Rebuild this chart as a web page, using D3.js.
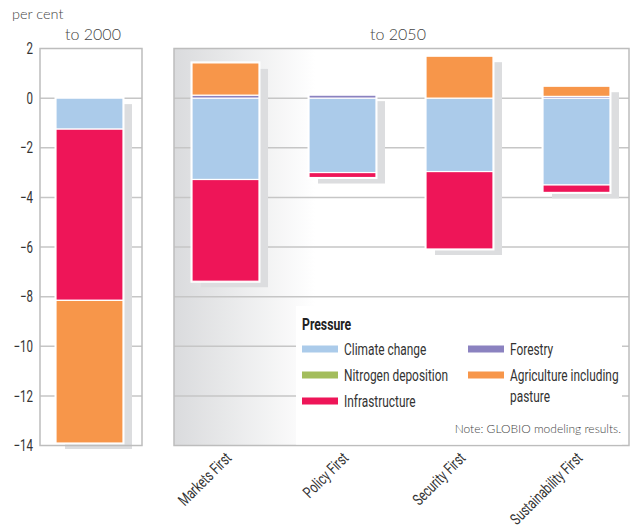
<!DOCTYPE html>
<html>
<head>
<meta charset="utf-8">
<script src="https://cdn.jsdelivr.net/npm/d3@7"></script>
<style>
  body { margin: 0; background: #fff; }
  svg { display: block; }
  .narrow { font-family: Roboto, "DejaVu Sans", sans-serif; }
  .geo { font-family: Lato, "Open Sans", sans-serif; font-weight: 300; fill: #444; }
</style>
</head>
<body>
<script>
// --- data ---
var keys = ["climate", "nitrogen", "infra", "forestry", "agri"];
var keyLabels = ["Climate change", "Nitrogen deposition", "Infrastructure", "Forestry", "Agriculture including pasture"];
var colors = ["#abcbea", "#a3bd5b", "#ee1558", "#8b82c0", "#f7964a"];

var period2000 = ["to 2000"];
var climate2000 = [-1.25];
var nitrogen2000 = [0];
var infra2000 = [-6.9];
var forestry2000 = [0];
var agri2000 = [-5.75];

var scenarios = ["Markets First", "Policy First", "Security First", "Sustainability First"];
var climate2050 = [-3.28, -3.0, -2.96, -3.5];
var nitrogen2050 = [0, 0, 0, 0];
var infra2050 = [-4.1, -0.2, -3.12, -0.3];
var forestry2050 = [0.12, 0.12, 0, 0.07];
var agri2050 = [1.3, 0, 1.69, 0.41];

var yTicks = [2, 0, -2, -4, -6, -8, -10, -12, -14];

var squeeze = 0.72;   // horizontal squeeze to mimic the condensed face

function rows(cats, c, n, i, f, a) {
    return cats.map(function(d, k){
        return {cat: d, climate: c[k], nitrogen: n[k], infra: i[k], forestry: f[k], agri: a[k]};
    });
}

function init(){
    var w = 630, h = 529;
    var svg = d3.select("body").append("svg").attr("width", w).attr("height", h);

    var y = d3.scaleLinear().domain([-14, 2]).range([445.5, 48.5]);

    var left = {x0: 40, x1: 142};
    var right = {x0: 174, x1: 629};

    var x2000 = d3.scaleBand().domain(period2000).range([22.5, 156.5]).paddingInner(0).paddingOuter(0.5);
    var x2050 = d3.scaleBand().domain(scenarios).range([167, 635]).paddingInner(0.4274).paddingOuter(0.2137);

    var stack = d3.stack().keys(keys).offset(d3.stackOffsetDiverging);
    var data2000 = stack(rows(period2000, climate2000, nitrogen2000, infra2000, forestry2000, agri2000));
    var data2050 = stack(rows(scenarios, climate2050, nitrogen2050, infra2050, forestry2050, agri2050));

    var color = d3.scaleOrdinal().domain(keys).range(colors);

    // gradient for right panel
    var grad = svg.append("defs").append("linearGradient")
        .attr("id", "fade").attr("gradientUnits", "userSpaceOnUse")
        .attr("x1", right.x0).attr("x2", 315).attr("y1", 0).attr("y2", 0);
    grad.append("stop").attr("offset", 0).attr("stop-color", "#dadbdd");
    grad.append("stop").attr("offset", 1).attr("stop-color", "#ffffff");

    svg.append("rect").attr("x", left.x0).attr("y", y(2)).attr("width", left.x1 - left.x0)
        .attr("height", y(-14) - y(2)).attr("fill", "#fff");
    svg.append("rect").attr("x", right.x0).attr("y", y(2)).attr("width", right.x1 - right.x0)
        .attr("height", y(-14) - y(2)).attr("fill", "url(#fade)");

    // gridlines
    [left, right].forEach(function(p){
        svg.append("g").selectAll("line")
            .data(yTicks.filter(function(d){ return d < 2 && d > -14; }))
            .enter().append("line")
            .attr("x1", p.x0).attr("x2", p.x1)
            .attr("y1", function(d){ return y(d); })
            .attr("y2", function(d){ return y(d); })
            .attr("stroke", "#c6c6c6").attr("stroke-width", 1.5);
    });

    function drawBars(data, x) {
        var cats = x.domain();
        var g = svg.append("g");
        var top = function(i){ return y(d3.max(data, function(s){ return s[i][1]; })); };
        var bot = function(i){ return y(d3.min(data, function(s){ return s[i][0]; })); };
        // shadows
        g.selectAll(".shadow").data(cats).enter().append("rect")
            .attr("x", function(d){ return x(d) + 9; })
            .attr("y", function(d, i){ return top(i) + 6; })
            .attr("width", x.bandwidth())
            .attr("height", function(d, i){ return bot(i) - top(i); })
            .attr("fill", "#dcdddf");
        // white outline
        g.selectAll(".outline").data(cats).enter().append("rect")
            .attr("x", function(d){ return x(d) - 1.5; })
            .attr("y", function(d, i){ return top(i) - 1.5; })
            .attr("width", x.bandwidth() + 3)
            .attr("height", function(d, i){ return bot(i) - top(i) + 3; })
            .attr("fill", "#fff");
        g.selectAll(".series").data(data).enter().append("g")
            .attr("fill", function(d){ return color(d.key); })
            .selectAll("rect")
            .data(function(d){ return d.filter(function(v){ return v[1] !== v[0]; }); })
            .enter().append("rect")
            .attr("x", function(d){ return x(d.data.cat); })
            .attr("y", function(d){ return y(d[1]); })
            .attr("width", x.bandwidth())
            .attr("height", function(d){ return y(d[0]) - y(d[1]); })
            .attr("stroke", "#fff").attr("stroke-width", 1.2);
    }
    drawBars(data2000, x2000);
    drawBars(data2050, x2050);

    // panel borders
    [left, right].forEach(function(p){
        svg.append("rect").attr("x", p.x0).attr("y", y(2)).attr("width", p.x1 - p.x0)
            .attr("height", y(-14) - y(2)).attr("fill", "none")
            .attr("stroke", "#bdbdbd").attr("stroke-width", 1.5);
    });

    // y axis
    var yAxis = svg.append("g").attr("class", "narrow")
        .attr("transform", "translate(" + left.x0 + ",0)")
        .call(d3.axisLeft(y).tickValues(yTicks).tickSize(0).tickPadding(7).tickFormat(d3.format("d")));
    yAxis.select(".domain").remove();
    yAxis.selectAll("text").attr("font-size", 16).attr("fill", "#333")
        .attr("font-family", null)
        .attr("x", -7 / squeeze)
        .attr("transform", "scale(" + squeeze + ",1)");

    // titles
    svg.append("text").attr("class", "geo").attr("x", 12).attr("y", 19).attr("font-size", 14.5).text("per cent");
    svg.append("text").attr("class", "geo").attr("x", (left.x0 + left.x1) / 2 + 2).attr("y", 40)
        .attr("text-anchor", "middle").attr("font-size", 16).text("to 2000");
    svg.append("text").attr("class", "geo").attr("x", 398).attr("y", 40)
        .attr("text-anchor", "middle").attr("font-size", 16).text("to 2050");

    // x labels
    svg.append("g").attr("class", "narrow").selectAll("text")
        .data(scenarios).enter().append("text")
        .attr("transform", function(d){
            return "translate(" + (x2050(d) + x2050.bandwidth() / 2 + 7) + ",459) rotate(-45) scale(" + squeeze + ",1)";
        })
        .attr("text-anchor", "end").attr("font-size", 16).attr("fill", "#333")
        .text(function(d){ return d; });

    // legend
    var lg = svg.append("g").attr("class", "narrow");
    lg.append("rect").attr("x", 296).attr("y", 306).attr("width", 326).attr("height", 138.5).attr("fill", "#fff");
    lg.append("text").attr("transform", "translate(302,330) scale(" + squeeze + ",1)")
        .attr("font-size", 17).attr("font-weight", "bold")
        .attr("fill", "#222").text("Pressure");
    var items = [
        {k: 0, x: 302, y: 349}, {k: 1, x: 302, y: 375}, {k: 2, x: 302, y: 401},
        {k: 3, x: 468, y: 349}, {k: 4, x: 468, y: 375}
    ];
    var it = lg.selectAll(".item").data(items).enter().append("g")
        .attr("transform", function(d){ return "translate(" + d.x + "," + d.y + ")"; });
    it.append("rect").attr("x", 0).attr("y", -3.5).attr("width", 36).attr("height", 7)
        .attr("fill", function(d){ return colors[d.k]; });
    it.append("text").attr("transform", "translate(42,6) scale(0.7,1)")
        .attr("font-size", 17).attr("fill", "#333")
        .each(function(d){
            var t = d3.select(this);
            if (d.k === 4) {
                t.append("tspan").attr("x", 0).text("Agriculture including");
                t.append("tspan").attr("x", 0).attr("dy", 21).text("pasture");
            } else {
                t.text(keyLabels[d.k]);
            }
        });

    svg.append("text").attr("class", "geo").attr("x", 621).attr("y", 433)
        .attr("text-anchor", "end").attr("font-size", 12).text("Note: GLOBIO modeling results.");
}

window.onload = init;
</script>
</body>
</html>
